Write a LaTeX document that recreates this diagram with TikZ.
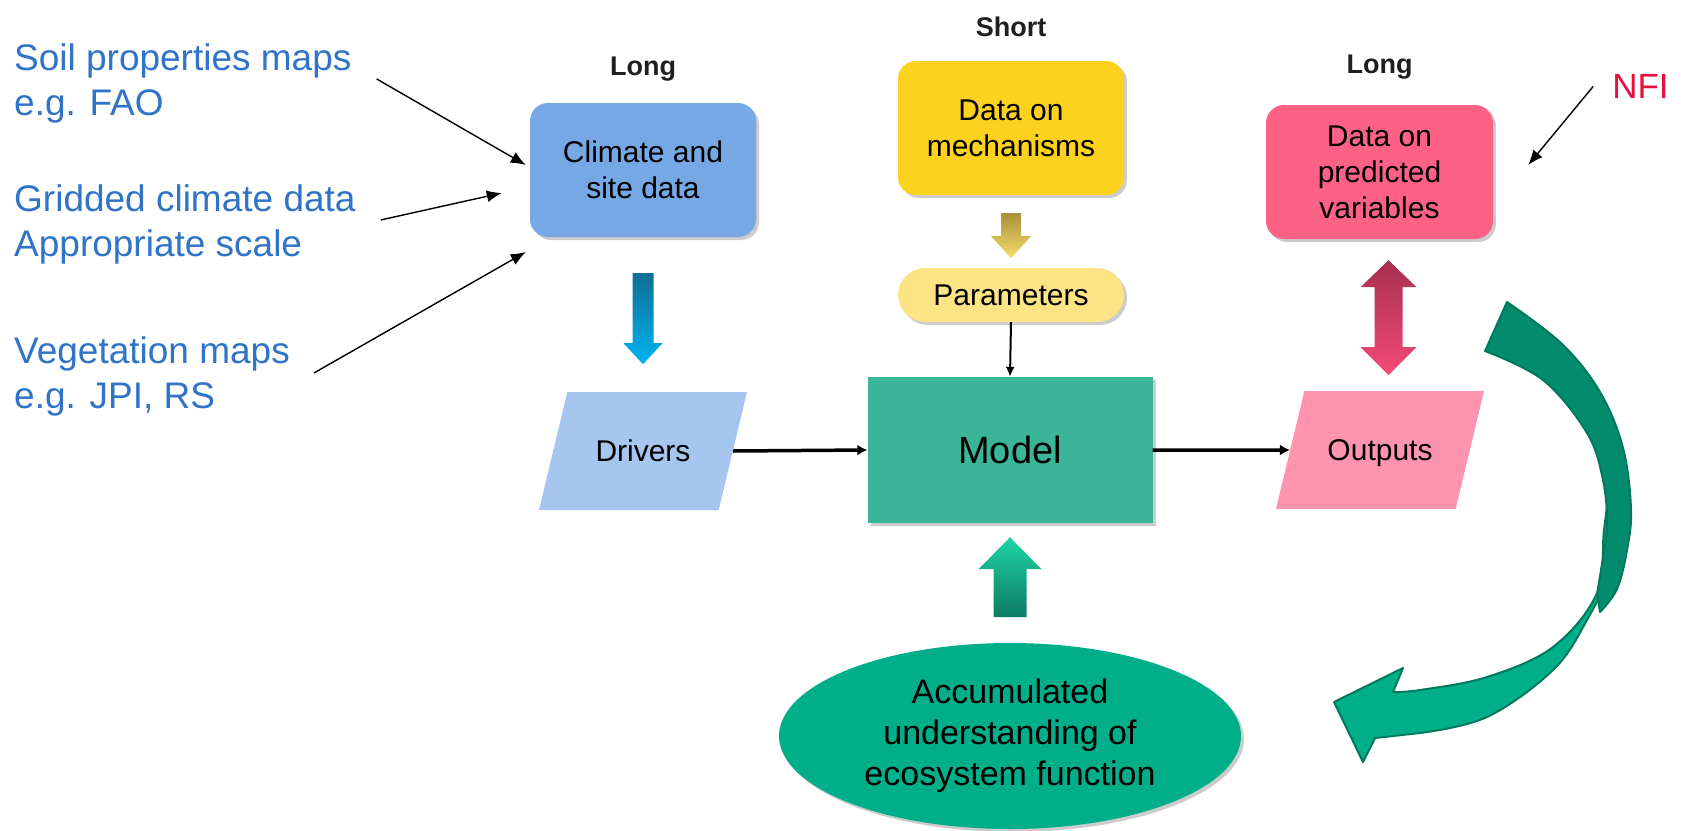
\documentclass[tikz,border=0pt]{standalone}
\usepackage{fontspec}
\setmainfont{Liberation Sans}
\usepackage{tikz}
\usetikzlibrary{shapes.geometric,arrows.meta,positioning,calc,shadows}
\definecolor{srcblue}{HTML}{2F74C9}
\definecolor{nfired}{HTML}{E5103D}
\definecolor{climfill}{HTML}{75A8E5}
\definecolor{drvfill}{HTML}{A6C5EF}
\definecolor{mechfill}{HTML}{FDD21E}
\definecolor{parfill}{HTML}{FCE383}
\definecolor{predfill}{HTML}{FE6186}
\definecolor{outfill}{HTML}{FF94AF}
\definecolor{modelfill}{HTML}{3BB599}
\definecolor{ecofill}{HTML}{00AF8A}
\definecolor{loopdark}{HTML}{038B6D}
\definecolor{loopedge}{HTML}{00795C}
\definecolor{bluetop}{HTML}{0F6E94}
\definecolor{bluebot}{HTML}{00B4F2}
\definecolor{goldtop}{HTML}{A89038}
\definecolor{goldbot}{HTML}{F6DE6E}
\definecolor{pinktop}{HTML}{A52F4F}
\definecolor{pinkbot}{HTML}{F44B76}
\definecolor{tealtop}{HTML}{1FD4A6}
\definecolor{tealbot}{HTML}{0D7B63}

\begin{document}
\begin{tikzpicture}[x=1pt,y=-1pt,
  box/.style={rounded corners=18pt,minimum width=226pt,minimum height=134pt,
              inner sep=0pt,align=center,font=\fontsize{30}{36}\selectfont,
              drop shadow={shadow xshift=3pt,shadow yshift=-3pt,opacity=0.2,fill=black}},
  para/.style={trapezium,trapezium left angle=76.5,trapezium right angle=103.5,
               trapezium stretches body,minimum width=208pt,
               text height=69.7pt,text depth=48.3pt,
               inner sep=0pt,font=\fontsize{30}{36}\selectfont},
  horizon/.style={inner sep=0pt,text depth=0pt,text=black!88,
                  font=\fontsize{27}{32}\selectfont\bfseries},
  source/.style={anchor=north west,align=left,inner sep=0pt,text=srcblue,
                 font=\fontsize{37}{45}\selectfont},
  inarrow/.style={-{Latex[length=15pt,width=12pt]},line width=1.4pt},
  flowarrow/.style={-{Latex[length=10pt,width=11pt]},line width=3.5pt},
  pararrow/.style={-{Latex[length=10pt,width=9pt]},line width=2pt}
]
\fill[white] (0,0) rectangle (1681,830);
\useasboundingbox (0,0) rectangle (1681,830);

% input boxes
\node[box,fill=climfill] (clim) at (643,170) {Climate and\\site data};
\node[box,fill=mechfill] (mech) at (1011,128) {Data on\\mechanisms};
\node[box,fill=predfill,minimum width=227pt] (pred) at (1379.5,172) {Data on\\predicted\\variables};

\node[horizon,above=27pt of clim] (tclim) {Long};
\node[horizon,above=24pt of mech] (tmech) {Short};
\node[horizon,above=31pt of pred] (tpred) {Long};

% middle row
\node[box,fill=parfill,rounded corners=27pt,minimum height=54pt] (par) at (1011,295) {Parameters};
\node[para,fill=drvfill] (drv) at (643,451) {Drivers};
\node[fill=modelfill,minimum width=285pt,minimum height=146pt,inner sep=0pt,
      font=\fontsize{38}{44}\selectfont,
      drop shadow={shadow xshift=3pt,shadow yshift=-3pt,opacity=0.2,fill=black}] (model) at (1010,450) {Model};
\node[para,fill=outfill] (out) at (1380,450) {Outputs};

% bottom
\node[ellipse,fill=ecofill,minimum width=462pt,minimum height=186pt,inner sep=0pt,
      align=center,font=\fontsize{34}{41}\selectfont,
      drop shadow={shadow xshift=3pt,shadow yshift=-3pt,opacity=0.2,fill=black}] (eco) at (1010,736)
      {Accumulated\\understanding of\\ecosystem function};

% data sources
\node[source] (soil) at (14,43) {Soil properties maps\\e.g. FAO};
\node[source] (grid) at (14,184) {Gridded climate data\\Appropriate scale};
\node[source] (veg) at (14,336) {Vegetation maps\\e.g. JPI, RS};
\node[inner sep=0pt,text=nfired,font=\fontsize{35}{42}\selectfont] (nfi) at (1640.5,86.5) {NFI};

\draw[inarrow] ($(soil.east)+(25,-4)$) -- ($(clim.west)+(-4,-5)$);
\draw[inarrow] ($(grid.east)+(25,-4)$) -- ($(clim.west)+(-28,23)$);
\draw[inarrow] ($(veg.east)+(24,-3)$) -- ($(clim.west)+(-4,82)$);
\draw[inarrow] ($(nfi.west)+(-19,0)$) -- ($(pred.east)+(35,-7)$);

% flow through the model
\draw[flowarrow] (drv.east) -- (model.west);
\draw[flowarrow] (model.east) -- (out.west);
\draw[pararrow] (par.south) -- (model.north);

% block arrows
\shade[top color=bluetop,bottom color=bluebot]
  ($(clim.south)+(-10.5,36)$) -- ++(21,0) -- ++(0,70) -- ++(9,0)
  -- ++(-19.5,21) -- ++(-19.5,-21) -- ++(9,0) -- cycle;
\shade[top color=goldtop,bottom color=goldbot]
  ($(mech.south)+(-10,18)$) -- ++(20,0) -- ++(0,23) -- ++(10,0)
  -- ++(-20,22) -- ++(-20,-22) -- ++(10,0) -- cycle;
\shade[top color=tealtop,bottom color=tealbot]
  ($(model.south)+(0,14)$) -- ++(31.5,32) -- ++(-15,0) -- ++(0,48)
  -- ++(-33,0) -- ++(0,-48) -- ++(-15,0) -- cycle;
\shade[top color=pinktop,bottom color=pinkbot]
  ($(pred.south)+(9,21)$) -- ++(28,27) -- ++(-14,0) -- ++(0,60) -- ++(14,0)
  -- ++(-28,28) -- ++(-28,-28) -- ++(14,0) -- ++(0,-60) -- ++(-14,0) -- cycle;

% feedback loop
\filldraw[fill=ecofill,draw=loopedge,line width=2pt,line join=round]
  plot[smooth,tension=0.6] coordinates {(1612,470) (1604,530) (1597,593) (1553,647) (1487,677) (1420,690) (1393,692)}
  -- (1403,668) -- (1334,702) -- (1363,762) -- (1375,738)
  -- plot[smooth,tension=0.6] coordinates {(1420,733) (1487,717) (1553,670) (1587,620) (1615,560) (1628,490)}
  -- cycle;
\filldraw[fill=loopdark,draw=loopedge,line width=2pt,line join=round]
  plot[smooth,tension=0.6] coordinates {(1507,302) (1562,344) (1600,392) (1623,448) (1631,509) (1627,550) (1617,589) (1600,612)}
  -- plot[smooth,tension=0.6] coordinates {(1597,594) (1603,557) (1607,524) (1603,480) (1587,433) (1543,380) (1485,351)}
  -- cycle;

\end{tikzpicture}
\end{document}
